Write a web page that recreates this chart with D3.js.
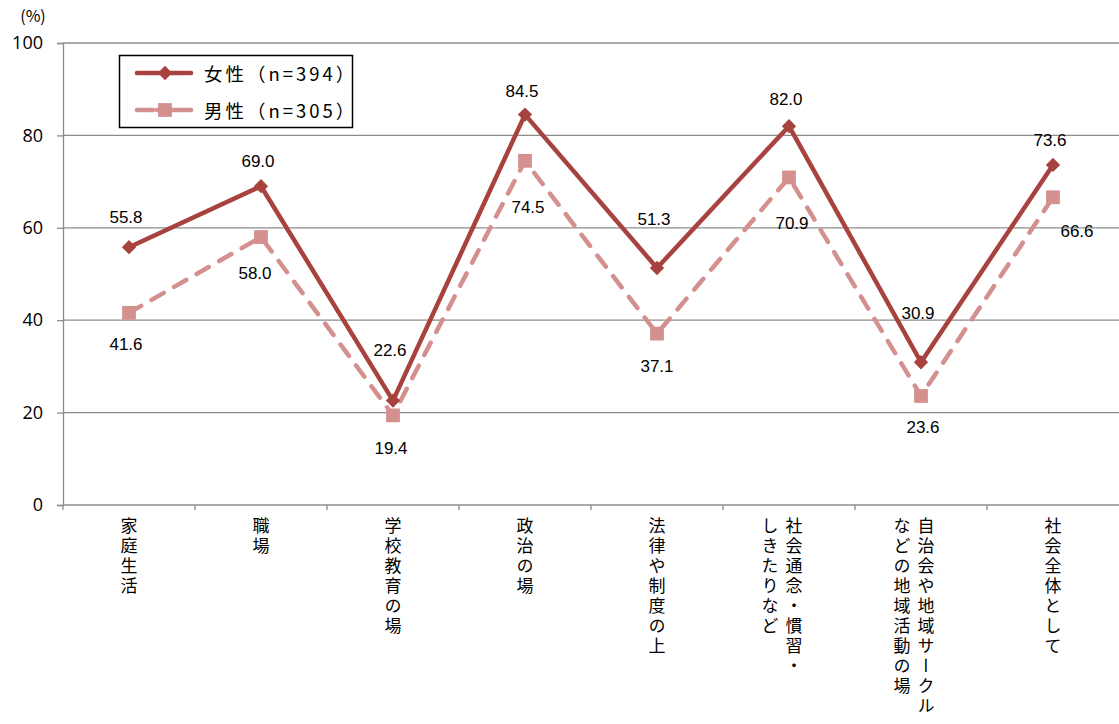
<!DOCTYPE html>
<html>
<head>
<meta charset="utf-8">
<script src="https://cdn.jsdelivr.net/npm/d3@7"></script>
<style>
    body { margin: 0; background: #fff; }
    svg { display: block; }
</style>
</head>
<body>
<div id="chart"></div>
<script>
// category labels (each entry = columns of vertical text, right to left)
const categories = ['家庭生活', '職場', '学校教育の場', '政治の場', '法律や制度の上', '社会通念・慣習・しきたりなど', '自治会や地域サークルなどの地域活動の場', '社会全体として'];
const categoryLines = [
    ['家庭生活'],
    ['職場'],
    ['学校教育の場'],
    ['政治の場'],
    ['法律や制度の上'],
    ['社会通念・慣習・', 'しきたりなど'],
    ['自治会や地域サークル', 'などの地域活動の場'],
    ['社会全体として'],
];
const femaleValues = [55.8, 69.0, 22.6, 84.5, 51.3, 82.0, 30.9, 73.6];
const maleValues = [41.6, 58.0, 19.4, 74.5, 37.1, 70.9, 23.6, 66.6];
const yTicks = [0, 20, 40, 60, 80, 100];
const seriesNames = ['女性（n=394）', '男性（n=305）'];

// label offsets (layout only)
const femaleLabelDy = [-30, -25, -50, -23, -48, -27, -49, -24];
const maleLabelDy = [32, 36, 33, 47, 33, 46, 32, 34];
const maleLabelDx = [-3, -6, -2, 3, 0, 3, 2, 24];

const width = 1119;
const height = 724;
const margin = { top: 43, right: 0, bottom: 219, left: 63 };

const femaleColor = '#a8423f';
const maleColor = '#d48f8f';
const gridColor = '#8c8c8c';

const svg = d3.select('#chart')
    .append('svg')
    .attr('width', width)
    .attr('height', height);

const xScale = d3.scaleBand()
    .domain(categories)
    .range([margin.left, width - margin.right]);

const yScale = d3.scaleLinear()
    .domain([0, 100])
    .range([height - margin.bottom, margin.top]);

const cx = (i) => xScale(categories[i]) + xScale.bandwidth() / 2;

// gridlines
svg.append('g')
    .selectAll('line')
    .data(yTicks.filter(d => d > 0))
    .join('line')
    .attr('x1', margin.left)
    .attr('x2', width - margin.right)
    .attr('y1', d => yScale(d))
    .attr('y2', d => yScale(d))
    .attr('stroke', gridColor)
    .attr('stroke-width', 1.3);

// y axis
const yAxis = svg.append('g')
    .attr('transform', `translate(${margin.left}, 0)`)
    .call(d3.axisLeft(yScale).tickValues(yTicks).tickSize(6).tickPadding(14));
yAxis.select('.domain').attr('stroke', gridColor).attr('stroke-width', 1.3);
yAxis.selectAll('line').attr('stroke', gridColor).attr('stroke-width', 1.3);
yAxis.selectAll('text')
    .style('font-family', '"Open Sans", "Noto Sans", sans-serif')
    .style('font-size', '18px')
    .attr('fill', '#000');

// x axis (band boundaries as ticks)
const xAxisG = svg.append('g');
xAxisG.append('line')
    .attr('x1', margin.left)
    .attr('x2', width - margin.right)
    .attr('y1', yScale(0))
    .attr('y2', yScale(0))
    .attr('stroke', gridColor)
    .attr('stroke-width', 1.3);
xAxisG.selectAll('.xtick')
    .data(categories)
    .join('line')
    .attr('class', 'xtick')
    .attr('x1', d => xScale(d))
    .attr('x2', d => xScale(d))
    .attr('y1', yScale(0))
    .attr('y2', yScale(0) + 5)
    .attr('stroke', gridColor)
    .attr('stroke-width', 1.3);

// vertical category labels
categoryLines.forEach((cols, i) => {
    cols.forEach((txt, j) => {
        svg.append('text')
            .attr('x', cx(i) + (cols.length > 1 ? 5 : 0) - j * 24)
            .attr('y', yScale(0) + 12)
            .style('writing-mode', 'vertical-rl')
            .style('text-orientation', 'upright')
            .style('font-family', '"Noto Sans CJK JP", sans-serif')
            .style('font-size', '17px')
            .style('letter-spacing', '3px')
            .attr('fill', '#000')
            .text(txt);
    });
});

// lines
const line = d3.line()
    .x((d, i) => cx(i))
    .y(d => yScale(d));

svg.append('path')
    .datum(maleValues)
    .attr('d', line)
    .attr('fill', 'none')
    .attr('stroke', maleColor)
    .attr('stroke-width', 4.5)
    .attr('stroke-dasharray', '14,12')
    .attr('stroke-linecap', 'round');

svg.append('path')
    .datum(femaleValues)
    .attr('d', line)
    .attr('fill', 'none')
    .attr('stroke', femaleColor)
    .attr('stroke-width', 4.5)
    .attr('stroke-linejoin', 'round');

// markers
const diamond = d3.symbol().type(d3.symbolDiamond2).size(130);
const square = d3.symbol().type(d3.symbolSquare).size(190);

svg.append('g')
    .selectAll('path')
    .data(maleValues)
    .join('path')
    .attr('d', square)
    .attr('transform', (d, i) => `translate(${cx(i)}, ${yScale(d)})`)
    .attr('fill', maleColor);

svg.append('g')
    .selectAll('path')
    .data(femaleValues)
    .join('path')
    .attr('d', diamond)
    .attr('transform', (d, i) => `translate(${cx(i)}, ${yScale(d)})`)
    .attr('fill', femaleColor);

// data labels
const labelFont = '"Liberation Sans", Arial, sans-serif';
svg.append('g')
    .selectAll('text')
    .data(femaleValues)
    .join('text')
    .attr('x', (d, i) => cx(i) - 3)
    .attr('y', (d, i) => yScale(d) + femaleLabelDy[i])
    .attr('text-anchor', 'middle')
    .attr('dominant-baseline', 'central')
    .style('font-family', labelFont)
    .style('font-size', '17px')
    .text(d => d.toFixed(1));

svg.append('g')
    .selectAll('text')
    .data(maleValues)
    .join('text')
    .attr('x', (d, i) => cx(i) + maleLabelDx[i])
    .attr('y', (d, i) => yScale(d) + maleLabelDy[i])
    .attr('text-anchor', 'middle')
    .attr('dominant-baseline', 'central')
    .style('font-family', labelFont)
    .style('font-size', '17px')
    .text(d => d.toFixed(1));

// unit
svg.append('text')
    .attr('x', 33)
    .attr('y', 22)
    .attr('text-anchor', 'middle')
    .style('font-family', '"Noto Sans CJK JP", sans-serif')
    .style('font-size', '16px')
    .text('(%)');

// legend
const legend = svg.append('g');
legend.append('rect')
    .attr('x', 119.5)
    .attr('y', 55.5)
    .attr('width', 233)
    .attr('height', 72)
    .attr('fill', '#fff')
    .attr('stroke', '#000')
    .attr('stroke-width', 1.5);

const legendRows = [
    { name: seriesNames[0], color: femaleColor, sym: diamond, dash: null, y: 73 },
    { name: seriesNames[1], color: maleColor, sym: square, dash: '16,4,34', y: 110 },
];
legendRows.forEach((r) => {
    legend.append('line')
        .attr('x1', 137)
        .attr('x2', 191)
        .attr('y1', r.y)
        .attr('y2', r.y)
        .attr('stroke', r.color)
        .attr('stroke-width', 4.5)
        .attr('stroke-dasharray', r.dash)
        .attr('stroke-linecap', 'round');
    legend.append('path')
        .attr('d', r.sym)
        .attr('transform', `translate(165, ${r.y})`)
        .attr('fill', r.color);
    legend.append('text')
        .attr('x', 204)
        .attr('y', r.y)
        .attr('dominant-baseline', 'central')
        .style('font-family', '"Noto Sans CJK JP", sans-serif')
        .style('font-size', '18.5px')
        .style('letter-spacing', '3px')
        .text(r.name);
});
</script>
</body>
</html>
